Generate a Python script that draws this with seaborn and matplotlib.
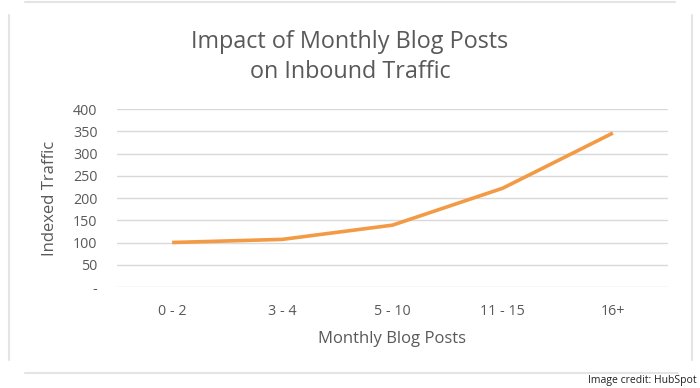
import matplotlib
matplotlib.use("Agg")
import matplotlib.pyplot as plt
import seaborn as sns
import pandas as pd
from matplotlib.lines import Line2D

categories = ["0 - 2", "3 - 4", "5 - 10", "11 - 15", "16+"]
traffic = [100, 107, 139, 222, 346]
yticks = [0, 50, 100, 150, 200, 250, 300, 350, 400]
ytick_labels = ["-", "50", "100", "150", "200", "250", "300", "350", "400"]

sns.set_theme(style="white")
plt.rcParams["font.family"] = ["Open Sans", "DejaVu Sans"]

W, H = 700, 388
fig = plt.figure(figsize=(7, 3.88), dpi=100)
ax = fig.add_axes([117 / W, 1 - 287 / H, 551 / W, 178 / H])

df = pd.DataFrame({"cat": categories, "val": traffic})
df["x"] = range(len(categories))
sns.lineplot(data=df, x="x", y="val", ax=ax, color="#F39A45", linewidth=2.6,
             solid_capstyle="butt")

ax.set_xlim(-0.5, len(categories) - 0.5)
ax.set_ylim(0, 400)
ax.set_yticks(yticks)
ax.set_yticklabels(ytick_labels)
ax.set_xticks(range(len(categories)))
ax.set_xticklabels(categories)
ax.yaxis.grid(True, color="#D9D9D9", linewidth=1)
ax.xaxis.grid(False)
ax.set_axisbelow(True)
for s in ax.spines.values():
    s.set_visible(False)
ax.tick_params(axis="both", length=0, labelsize=10.3, colors="#595959")
ax.tick_params(axis="x", pad=12)
ax.tick_params(axis="y", pad=14)
ax.set_xlabel("Monthly Blog Posts", fontsize=12, color="#595959", labelpad=9)
ax.set_ylabel("Indexed Traffic", fontsize=12, color="#595959", labelpad=11)

fig.text(350 / W, 1 - 57 / H, "Impact of Monthly Blog Posts\non Inbound Traffic",
         ha="center", va="center", fontsize=16.8, color="#595959", linespacing=1.35)

# card borders
def hline(y, x0, x1):
    fig.add_artist(Line2D([x0 / W, x1 / W], [1 - y / H, 1 - y / H],
                          transform=fig.transFigure, color="#E4E4E4", linewidth=1.5))

def vline(x, y0, y1):
    fig.add_artist(Line2D([x / W, x / W], [1 - y0 / H, 1 - y1 / H],
                          transform=fig.transFigure, color="#E4E4E4", linewidth=1.5))

hline(1.5, 25, 675)
hline(373, 25, 678)
vline(9, 15, 360)
vline(692, 15, 360)

fig.text(697 / W, 1 - 380 / H, "Image credit: HubSpot", ha="right", va="center",
         fontsize=7.5, color="#222222")

fig.savefig("out.png", dpi=100, facecolor="white")
